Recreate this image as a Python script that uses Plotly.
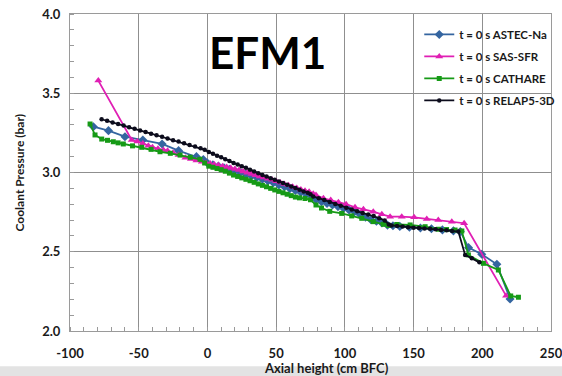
import plotly.graph_objects as go

# ---------------- data ----------------
astec_x = [-83, -72, -60, -47, -33, -21, -8, -3, 0, 4, 8, 12, 16, 20, 24, 28, 32, 36, 40, 44, 48, 52, 56, 60,
           64, 68, 72, 76, 79, 83, 87, 91, 95, 99, 103, 107, 111, 115, 119, 123, 127, 131, 135, 140, 147,
           155, 163, 171, 179, 184, 190, 199.6, 210.6, 220.2]
astec_y = [3.289, 3.264, 3.226, 3.205, 3.180, 3.138, 3.100, 3.082, 3.060, 3.048, 3.040, 3.030, 3.020, 3.010,
           3.000, 2.990, 2.978, 2.968, 2.957, 2.946, 2.935, 2.922, 2.910, 2.898, 2.886, 2.874, 2.862, 2.850,
           2.830, 2.815, 2.805, 2.795, 2.785, 2.774, 2.764, 2.752, 2.735, 2.718, 2.702, 2.692, 2.682, 2.668,
           2.664, 2.660, 2.655, 2.650, 2.645, 2.638, 2.632, 2.628, 2.526, 2.484, 2.421, 2.202]

sas_x = [-79.4, -55.1, -51, -47, -43, -40, -36, -32, -29, -25, -21, -16, -12, -8, -4, -1, 2, 5, 8, 11, 14,
         17, 20, 23, 26, 29, 32, 35, 38, 41, 44, 47, 50, 53, 56, 59, 62, 65, 68, 71, 74, 77, 79, 84.4, 89.7,
         95.3, 100.9, 107.4, 113.5, 120.7, 126.9, 132.9, 141.4, 150.4, 159.6, 168, 177.8, 186.8, 217.3]
sas_y = [3.580, 3.205, 3.195, 3.183, 3.168, 3.159, 3.150, 3.142, 3.138, 3.125, 3.110, 3.093, 3.085, 3.076,
         3.068, 3.060, 3.057, 3.050, 3.045, 3.040, 3.035, 3.029, 3.022, 3.015, 3.006, 2.999, 2.990, 2.982,
         2.975, 2.968, 2.961, 2.954, 2.945, 2.937, 2.928, 2.919, 2.910, 2.902, 2.893, 2.885, 2.878, 2.866,
         2.858, 2.837, 2.826, 2.812, 2.800, 2.780, 2.768, 2.753, 2.736, 2.721, 2.721, 2.717, 2.707, 2.700,
         2.690, 2.680, 2.223]

cathare_x = [-85.4, -81.8, -76.9, -72.7, -68.5, -65, -61.2, -54.5, -47.8, -41, -34.5, -27, -19.9, -12.5, -5.4,
             -2, 1, 4, 7, 10, 13, 16, 19, 22, 25, 28, 31, 34, 37, 40, 43, 46, 49, 52, 55, 58, 61, 64, 67, 71,
             75, 79, 83, 89, 97.7, 105, 112.3, 120.7, 128, 131.7, 137.8, 147.5, 158.4, 168.1, 174, 180.2, 185.1,
             189.9, 200.8, 211.7, 220.7, 226.3]
cathare_y = [3.306, 3.237, 3.211, 3.203, 3.194, 3.187, 3.180, 3.168, 3.159, 3.146, 3.131, 3.121, 3.110, 3.096,
             3.083, 3.060, 3.040, 3.033, 3.025, 3.018, 3.008, 2.996, 2.984, 2.975, 2.966, 2.957, 2.948, 2.938,
             2.928, 2.919, 2.910, 2.900, 2.890, 2.881, 2.872, 2.863, 2.854, 2.845, 2.840, 2.836, 2.828, 2.795,
             2.776, 2.755, 2.742, 2.726, 2.711, 2.690, 2.673, 2.666, 2.672, 2.669, 2.658, 2.642, 2.640, 2.637,
             2.631, 2.480, 2.427, 2.385, 2.221, 2.213]

relap_x = [-77, -73, -69, -65, -61, -57, -53, -49, -45, -41, -37, -33, -29, -25, -21, -17, -13, -9, -5, -2, 1,
           4, 7, 10, 13, 16, 19, 22, 25, 28, 31, 34, 37, 40, 43, 46, 49, 52, 55, 58, 61, 64, 67, 70, 73, 75,
           77, 81, 85, 89, 93, 97, 101, 105, 109, 113, 117, 121, 125, 129, 132, 134, 138, 142, 146, 150, 154,
           158, 162, 166, 170, 174, 178, 182.6, 187.5, 192.4, 197.9]
relap_y = [3.336, 3.327, 3.316, 3.306, 3.296, 3.285, 3.276, 3.265, 3.256, 3.245, 3.235, 3.225, 3.215, 3.204,
           3.195, 3.184, 3.174, 3.164, 3.153, 3.143, 3.130, 3.118, 3.106, 3.096, 3.084, 3.072, 3.060, 3.050,
           3.040, 3.030, 3.017, 3.006, 2.996, 2.985, 2.975, 2.964, 2.954, 2.943, 2.933, 2.922, 2.912, 2.902,
           2.891, 2.880, 2.872, 2.862, 2.848, 2.838, 2.826, 2.814, 2.802, 2.790, 2.777, 2.766, 2.755, 2.744,
           2.735, 2.725, 2.712, 2.697, 2.672, 2.666, 2.662, 2.659, 2.655, 2.652, 2.650, 2.647, 2.645, 2.642,
           2.638, 2.635, 2.631, 2.627, 2.480, 2.459, 2.433]

series_names = ["t = 0 s ASTEC-Na", "t = 0 s SAS-SFR", "t = 0 s CATHARE", "t = 0 s RELAP5-3D"]
x_ticks = [-100, -50, 0, 50, 100, 150, 200, 250]
y_ticks = [2.0, 2.5, 3.0, 3.5, 4.0]

# ---------------- figure ----------------
FONT = "Lato"
fig = go.Figure()

styles = [
    (astec_x, astec_y, "#3465a0", "diamond", 7),
    (sas_x, sas_y, "#e01fb4", "triangle-up", 7),
    (cathare_x, cathare_y, "#169a16", "square", 5),
    (relap_x, relap_y, "#0c0c1c", "circle", 4.5),
]
for i, (xs, ys, col, sym, sz) in enumerate(styles):
    fig.add_trace(go.Scatter(
        x=xs, y=ys, mode="lines+markers", name=series_names[i],
        legendgroup=str(i),
        line=dict(color=col, width=1.8),
        marker=dict(color=col, symbol=sym, size=sz, line=dict(width=0)),
    ))

grid_col = "#8f8f8f"
fig.update_xaxes(
    range=[-100, 250], tickvals=x_ticks, ticktext=[str(v) for v in x_ticks],
    showgrid=True, gridcolor=grid_col, gridwidth=1, zeroline=False,
    showline=True, linecolor="#9a9a9a", linewidth=1, mirror=True,
    automargin=False, ticks="", ticklabelstandoff=10, ticklabeloverflow="allow",
    tickfont=dict(family=FONT, size=13, color="#1a1a1a", weight="bold"),
    minor=dict(dtick=10, tick0=0, ticks="inside", ticklen=4, tickcolor="#9a9a9a", showgrid=False),
)
fig.update_yaxes(
    range=[2.0, 4.0], tickvals=y_ticks, ticktext=[f"{v:.1f}" for v in y_ticks],
    showgrid=True, gridcolor=grid_col, gridwidth=1, zeroline=False,
    showline=True, linecolor="#9a9a9a", linewidth=1, mirror=True,
    automargin=False, ticks="", ticklabelstandoff=6, ticklabeloverflow="allow",
    tickfont=dict(family=FONT, size=13, color="#1a1a1a", weight="bold"),
    minor=dict(dtick=0.1, tick0=2.0, ticks="inside", ticklen=4, tickcolor="#9a9a9a", showgrid=False),
)

fig.update_layout(
    width=562, height=376,
    margin=dict(l=70, r=11, t=14, b=45, autoexpand=False),
    paper_bgcolor="white", plot_bgcolor="white",
    font=dict(family=FONT, color="#1a1a1a"),
    showlegend=True,
    legend=dict(
        xref="container", yref="container",
        x=0.746, y=0.947, xanchor="left", yanchor="top",
        bgcolor="rgba(255,255,255,0)", borderwidth=0,
        font=dict(family=FONT, size=11.5, color="#1a1a1a", weight="bold"),
        tracegroupgap=3, itemwidth=30,
    ),
    annotations=[
        dict(text="EFM1", x=0.41, y=0.88, xref="paper", yref="paper", showarrow=False,
             xanchor="center", yanchor="middle",
             font=dict(family=FONT, size=44, color="black", weight="bold")),
        dict(text="Coolant Pressure (bar)", x=-0.104, y=0.50, xref="paper", yref="paper",
             showarrow=False, textangle=-90, xanchor="center", yanchor="middle",
             font=dict(family=FONT, size=12, color="#1a1a1a", weight="bold")),
        dict(text="Axial height (cm BFC)", x=0.534, y=-0.116, xref="paper", yref="paper",
             showarrow=False, xanchor="center", yanchor="middle",
             font=dict(family=FONT, size=13, color="#1a1a1a", weight="bold")),
    ],
    shapes=[
        dict(type="rect", xref="paper", yref="paper", x0=0.697, x1=0.998, y0=0.705, y1=0.965,
             fillcolor="white", line=dict(width=0), layer="between"),
        dict(type="rect", xref="paper", yref="paper", x0=-0.2, x1=1.1, y0=-0.111, y1=-0.2,
             fillcolor="#e3e3e3", line=dict(width=0), layer="below"),
    ],
)

fig.write_html("out.html")
